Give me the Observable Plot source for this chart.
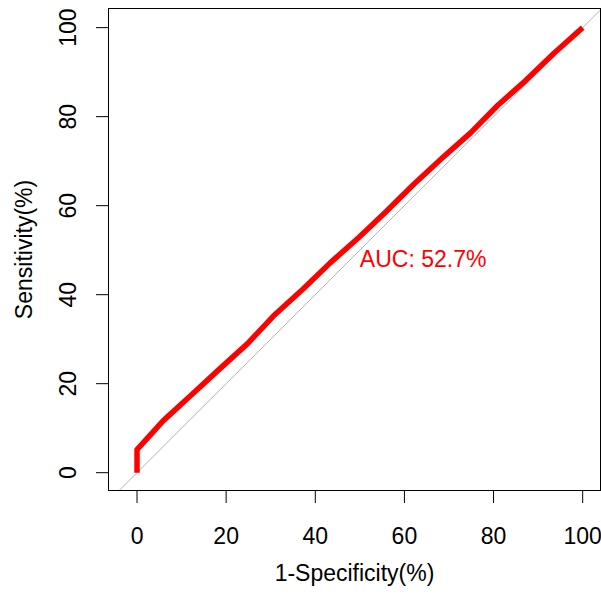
<!DOCTYPE html>
<html>
<head>
<meta charset="utf-8">
<script src="https://cdn.jsdelivr.net/npm/d3@7"></script>
<script src="https://cdn.jsdelivr.net/npm/@observablehq/plot@0.6"></script>
<style>
  html, body { margin: 0; padding: 0; background: #fff; }
  #chart svg { display: block; }
</style>
</head>
<body>
<div id="chart"></div>
<script>
// ROC curve points (1-Specificity %, Sensitivity %)
const fpr = [0, 0, 5.9, 12.0, 18.3, 24.8, 30.6, 37.2, 43.4, 49.7, 55.8, 62.1, 68.6, 74.9, 80.9, 87.2, 93.5, 100];
const tpr = [0, 5.2, 11.7, 17.3, 23.1, 29.0, 35.2, 41.2, 47.2, 52.8, 58.6, 64.8, 70.8, 76.4, 82.5, 88.1, 94.2, 100];
const xTicks = [0, 20, 40, 60, 80, 100];
const yTicks = [0, 20, 40, 60, 80, 100];
const diagonal = [-10, 110];
const aucLabel = "AUC: 52.7%";
const aucPos = [50, 50];
const xTitle = "1-Specificity(%)";
const yTitle = "Sensitivity(%)";

const roc = fpr.map((x, i) => ({x, y: tpr[i]}));
const diag = diagonal.map(v => ({x: v, y: v}));

const font = "'Liberation Sans', Arial, sans-serif";

const chart = Plot.plot({
  width: 601,
  height: 594,
  marginLeft: 108,
  marginRight: 1,
  marginTop: 8,
  marginBottom: 104,
  style: {fontFamily: font, background: "#fff", color: "#000"},
  x: {domain: [-6.4, 104], axis: null},
  y: {domain: [-4, 104.3], axis: null},
  marks: [
    Plot.line(diag, {x: "x", y: "y", stroke: "#b4b4b4", strokeWidth: 1, clip: true}),
    Plot.line(roc, {x: "x", y: "y", stroke: "#ff0000", strokeWidth: 5.5, strokeLinejoin: "round", strokeLinecap: "butt"}),
    Plot.frame({stroke: "#000", strokeWidth: 1}),
    Plot.axisX(xTicks, {tickSize: 13, tickPadding: 24, fontSize: 23, label: null, stroke: "#000", fill: "#000"}),
    Plot.axisY(yTicks, {tickSize: 12, tickFormat: () => "", label: null, stroke: "#000"}),
    Plot.text(yTicks, {y: d => d, text: d => String(d), frameAnchor: "left", textAnchor: "middle", dx: -40, rotate: -90, fontSize: 23, fill: "#000"}),
    Plot.text([xTitle], {text: d => d, frameAnchor: "bottom", textAnchor: "middle", dy: 90, fontSize: 23, fill: "#000"}),
    Plot.text([yTitle], {text: d => d, frameAnchor: "left", textAnchor: "middle", dx: -84, rotate: -90, fontSize: 23, fill: "#000"}),
    Plot.text([aucLabel], {x: () => aucPos[0], y: () => aucPos[1], text: d => d, textAnchor: "start", lineAnchor: "top", fontSize: 23, fill: "#ff0000"})
  ]
});
document.getElementById("chart").appendChild(chart);
</script>
</body>
</html>
